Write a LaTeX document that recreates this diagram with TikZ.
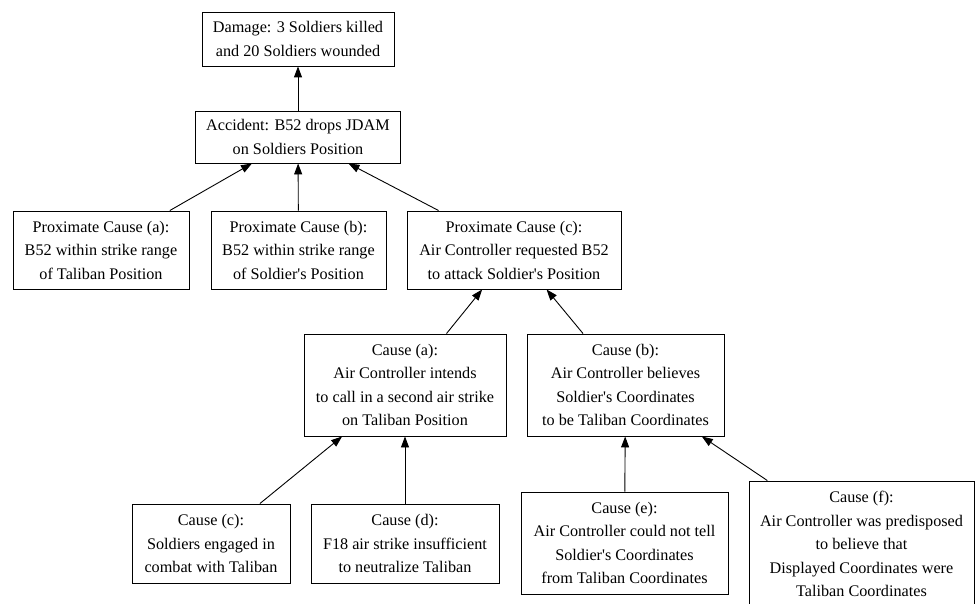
\documentclass[tikz,border=0pt]{standalone}
\usepackage{fontspec}
\setmainfont{Liberation Serif}
\usetikzlibrary{arrows.meta,positioning}
\newcommand{\apos}{\textquotesingle}

\begin{document}
\begin{tikzpicture}[x=1pt,y=-1pt,
  causebox/.style={draw,line width=0.9pt,align=center,inner sep=2pt,
    font=\fontsize{16.2}{23.5}\selectfont},
  causeedge/.style={line width=0.9pt,-{Triangle[length=11pt,width=8pt]}}
]
  \useasboundingbox (0,0) rectangle (975,604);
  % top of the tree
  \node[causebox,minimum width=192pt,minimum height=54pt] (damage) at (298,39) {
    Damage: 3 Soldiers killed\\and 20 Soldiers wounded};
  \node[causebox,minimum width=205pt,minimum height=52pt] (accident) at (298,137) {
    Accident: B52 drops JDAM\\on Soldiers Position};
  % proximate causes
  \node[causebox,minimum width=176pt,minimum height=78pt] (pca) at (101,250) {
    Proximate Cause (a):\\B52 within strike range\\of Taliban Position};
  \node[causebox,minimum width=175pt,minimum height=78pt] (pcb) at (298.5,250) {
    Proximate Cause (b):\\B52 within strike range\\of Soldier\apos{}s Position};
  \node[causebox,minimum width=214pt,minimum height=78pt] (pcc) at (514,250) {
    Proximate Cause (c):\\Air Controller requested B52\\to attack Soldier\apos{}s Position};
  % causes of (c)
  \node[causebox,minimum width=202pt,minimum height=102pt] (causea) at (405,385) {
    Cause (a):\\Air Controller intends\\to call in a second air strike\\on Taliban Position};
  \node[causebox,minimum width=197pt,minimum height=102pt] (causeb) at (625.5,385) {
    Cause (b):\\Air Controller believes\\Soldier\apos{}s Coordinates\\to be Taliban Coordinates};
  % bottom row
  \node[causebox,minimum width=158pt,minimum height=79pt] (causec) at (211,543.5) {
    Cause (c):\\Soldiers engaged in\\combat with Taliban};
  \node[causebox,minimum width=188pt,minimum height=79pt] (caused) at (405,543.5) {
    Cause (d):\\F18 air strike insufficient\\to neutralize Taliban};
  \node[causebox,minimum width=207pt,minimum height=102pt] (causee) at (624.5,543) {
    Cause (e):\\Air Controller could not tell\\Soldier\apos{}s Coordinates\\from Taliban Coordinates};
  \node[causebox,minimum width=225pt,minimum height=126pt] (causef) at (861.5,544) {
    Cause (f):\\Air Controller was predisposed\\to believe that\\Displayed Coordinates were\\Taliban Coordinates};
  % edges
  \draw[causeedge] (accident) -- (damage);
  \draw[causeedge] (pca) -- (accident);
  \draw[causeedge] (pcb) -- (accident);
  \draw[causeedge] (pcc) -- (accident);
  \draw[causeedge] (causea) -- (pcc);
  \draw[causeedge] (causeb) -- (pcc);
  \draw[causeedge] (causec) -- (causea);
  \draw[causeedge] (caused) -- (causea);
  \draw[causeedge] (causee) -- (causeb);
  \draw[causeedge] (causef) -- (causeb);
\end{tikzpicture}
\end{document}
